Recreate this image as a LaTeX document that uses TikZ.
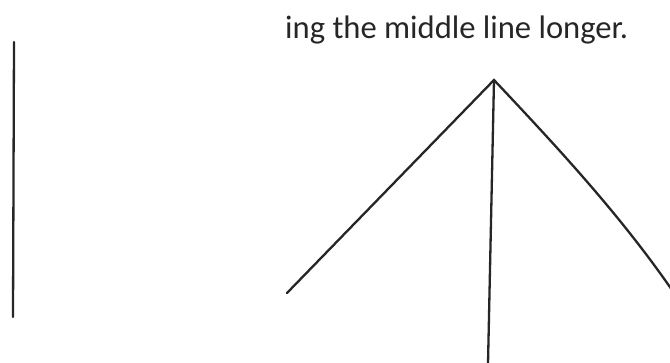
\documentclass[tikz,border=0pt]{standalone}
\usepackage{fontspec}
\setmainfont{Carlito}
\begin{document}
\begin{tikzpicture}[x=1pt, y=-1pt]
      \useasboundingbox (0,0) rectangle (670,362);
      \tikzset{stroke/.style={line width=2.3pt, color=black!85, line cap=round}}

      \node[anchor=base west, inner sep=0pt, font=\fontsize{32.6}{38}\selectfont, color=black!85] (caption) at (285,38) {ing the middle line longer.};

      \coordinate (single top) at (14,42);
      \coordinate (single bottom) at (13,317);
      \draw[stroke] (single top) -- (single bottom);

      \coordinate (apex) at (494,80);
      \coordinate (left foot) at (287,293);
      \coordinate (right foot) at (672,290);
      \coordinate (middle foot) at (488,364);
      \draw[stroke] (left foot) -- (apex) .. controls (560,150) and (620,215) .. (right foot);
      \draw[stroke] (apex) -- (middle foot);
    \end{tikzpicture}
\end{document}
